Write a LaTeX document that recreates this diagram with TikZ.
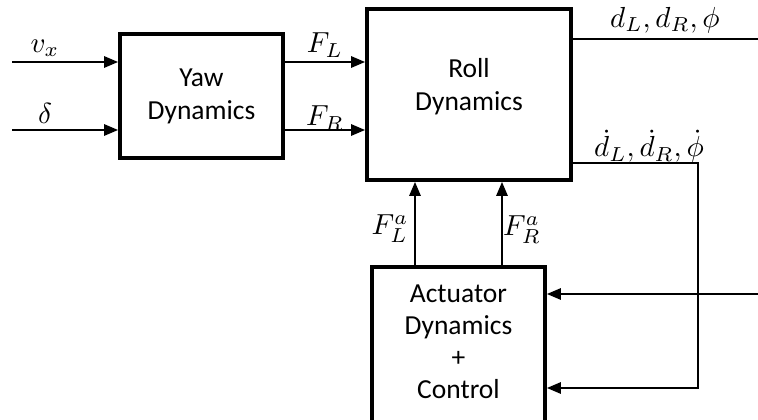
\documentclass[tikz,border=0pt]{standalone}
\usepackage{fontspec}
\setsansfont{Carlito}
\usetikzlibrary{arrows.meta,calc}
\begin{document}
\begin{tikzpicture}[x=1pt,y=-1pt,
  blk/.style={draw,line width=3.6pt,minimum width=#1,inner sep=0pt,font=\sffamily\fontsize{27.5}{33}\selectfont,align=center},
  wire/.style={line width=2.6pt},
  arr/.style={wire,-{Triangle[length=14pt,width=11pt]}},
  lbl/.style={inner sep=0pt,scale=2.9}]
\useasboundingbox (0,0) rectangle (758,420);
% blocks
\node[blk=163pt,minimum height=124pt] (yaw) at (201.5,96) {Yaw\\Dynamics};
\node[blk=204pt,minimum height=171pt] (roll) at (469,94.5) {};
\node[font=\sffamily\fontsize{27.5}{33}\selectfont,align=center] (rolltxt) at (469,87) {Roll\\Dynamics};
\node[blk=173pt,minimum height=157pt] (act) at (458.5,345.5) {};
\node[font=\sffamily\fontsize{27.5}{32}\selectfont,align=center] (acttxt) at (458.5,342) {Actuator\\Dynamics\\+\\Control};
% coordinates
\coordinate (vin) at (12,62);
\coordinate (din) at (12,130);
\coordinate (dout) at (758,39);
\coordinate (c1) at (698,163);
\coordinate (c2) at (698,388);
\coordinate (uin) at (758,294);
\coordinate (fal) at (415,0);
\coordinate (far) at (502,0);
% connectors
\draw[arr] (vin) -- (vin -| yaw.west);
\draw[arr] (din) -- (din -| yaw.west);
\draw[arr] (vin -| yaw.east) -- (vin -| roll.west);
\draw[arr] (din -| yaw.east) -- (din -| roll.west);
\draw[wire] (dout -| roll.east) -- (dout);
\draw[arr] (c1 -| roll.east) -- (c1) -- (c2) -- (c2 -| act.east);
\draw[arr] (uin) -- (uin -| act.east);
\draw[arr] (act.north -| fal) -- (roll.south -| fal);
\draw[arr] (act.north -| far) -- (roll.south -| far);
% labels
\node[lbl] (lvx) at (45,48) {$v_x$};
\node[lbl] (ldel) at (45,113) {$\delta$};
\node[lbl] (lfl) at (325,45) {$F_L$};
\node[lbl] (lfr) at (325,118) {$F_R$};
\node[lbl] (ld) at (665,20) {$d_L, d_R, \phi$};
\node[lbl] (ldd) at (649,146) {$\dot d_L, \dot d_R, \dot\phi$};
\node[lbl] (lfal) at (390,229) {$F_L^a$};
\node[lbl] (lfar) at (522,230) {$F_R^a$};
\end{tikzpicture}
\end{document}
